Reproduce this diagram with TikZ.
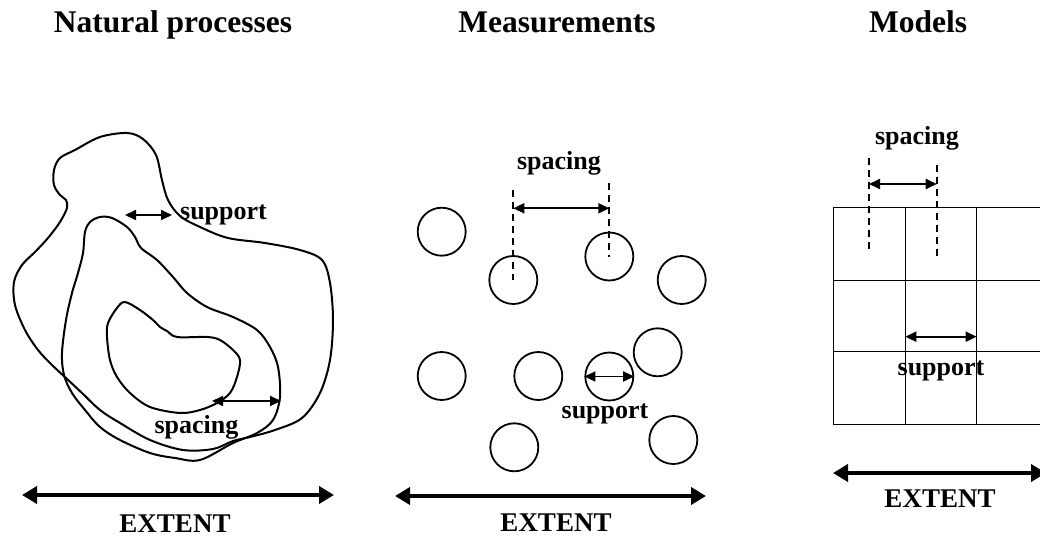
\documentclass[tikz,border=0pt]{standalone}
\usepackage{fontspec}
\setmainfont{Liberation Serif}
\usetikzlibrary{arrows.meta}
\tikzset{
  title/.style={anchor=base,font=\fontsize{31.5}{34}\selectfont\bfseries,inner sep=0pt},
  lbl/.style={anchor=base,font=\fontsize{26}{28}\selectfont\bfseries,inner sep=0pt},
  ext/.style={anchor=base,font=\fontsize{27}{29}\selectfont\bfseries,inner sep=0pt},
  blob/.style={line width=2pt,line join=round},
  spot/.style={draw,circle,line width=1.8pt,minimum size=48pt,inner sep=0pt},
  small arrow/.style={line width=1.8pt,{Triangle[length=11pt,width=10pt]}-{Triangle[length=11pt,width=10pt]}},
  big arrow/.style={line width=4pt,{Triangle[length=15pt,width=17pt]}-{Triangle[length=15pt,width=17pt]}},
  guide/.style={line width=1.8pt,dash pattern=on 7pt off 5pt},
  gridline/.style={line width=1.5pt}
}
\begin{document}
\begin{tikzpicture}[x=1pt,y=-1pt]
\useasboundingbox[fill=white] (0,0) rectangle (1040,537);

% titles
\node[title] (t1) at (173,33) {Natural processes};
\node[title] (t2) at (557,33) {Measurements};
\node[title] (t3) at (918,33) {Models};

% ---------- Panel 1: natural processes ----------
\draw[blob] plot[smooth cycle,tension=0.55] coordinates {
 (127,133) (143,139) (156,155) (162,180) (168,200) (180,216) (200,227) (228,238)
 (265,243) (300,250) (322,260) (330,283) (333,320) (330,360) (320,393) (302,418)
 (275,430) (250,437) (233,441) (213,449) (183,450) (150,440) (120,423) (100,410)
 (82,393) (66,378) (52,365) (38,350) (25,330) (15,305) (14,282) (22,265) (35,252)
 (48,238) (60,222) (67,208) (66,200) (60,195) (54,185) (54,170) (60,158) (75,150) (100,137)};
\draw[blob] plot[smooth cycle,tension=0.55] coordinates {
 (100,217) (112,218) (127,227) (135,237) (141,248) (157,260) (173,277) (187,293)
 (207,307) (233,317) (257,330) (270,347) (278,367) (280,397) (273,420) (257,433)
 (233,443) (200,460) (175,458) (150,453) (120,440) (100,427) (85,410) (72,393)
 (64,375) (62,353) (66,320) (72,293) (78,273) (83,253) (85,232) (90,222)};
\draw[blob] plot[smooth cycle,tension=0.55] coordinates {
 (125,302) (117,308) (108,323) (107,337) (110,360) (117,377) (130,393) (150,407)
 (180,413) (200,410) (217,403) (230,393) (237,377) (240,360) (233,350) (220,340)
 (207,337) (177,337) (167,331) (160,327) (153,320) (140,310)};

\coordinate (s1a) at (125,215);
\coordinate (s1b) at (172,215);
\draw[small arrow] (s1a) -- (s1b);
\node[lbl] (sup1) at (223.5,220) {support};

\coordinate (p1a) at (212,401);
\coordinate (p1b) at (281,401);
\draw[small arrow] (p1a) -- (p1b);
\node[lbl] (spc1) at (196.5,433) {spacing};

\coordinate (e1a) at (22,495);
\coordinate (e1b) at (334,495);
\draw[big arrow] (e1a) -- (e1b);
\node[ext] (ext1) at (175,532) {EXTENT};

% ---------- Panel 2: measurements ----------
\node[spot] (c1)  at (441.7,231.7) {};
\node[spot] (c2)  at (513.3,280) {};
\node[spot] (c3)  at (609.3,256.5) {};
\node[spot] (c4)  at (681.7,280) {};
\node[spot] (c5)  at (441.7,376) {};
\node[spot] (c6)  at (538.3,376) {};
\node[spot] (c7)  at (609.3,376.5) {};
\node[spot] (c8)  at (657.7,352.3) {};
\node[spot] (c9)  at (514.3,447.3) {};
\node[spot] (c10) at (673.3,440) {};

\coordinate (g2a) at (513.3,190);
\coordinate (g2b) at (609.3,183);
\coordinate (g2at) at (513.3,208.3);
\coordinate (g2bt) at (609.3,208.3);
\draw[guide] (g2a) -- (c2.center);
\draw[guide] (g2b) -- (c3.center);
\draw[small arrow] (g2at) -- (g2bt);
\node[lbl] (spc2) at (559,170) {spacing};

\draw[small arrow] (c7.west) -- (c7.east);
\node[lbl] (sup2) at (605,418) {support};

\coordinate (e2a) at (395,496);
\coordinate (e2b) at (706,496);
\draw[big arrow] (e2a) -- (e2b);
\node[ext] (ext2) at (556,531) {EXTENT};

% ---------- Panel 3: models ----------
\draw[gridline] (833.3,207.3) -- (1048,207.3);
\draw[gridline] (833.3,280.7) -- (1048,280.7);
\draw[gridline] (833.3,351.7) -- (1048,351.7);
\draw[gridline] (833.3,424.3) -- (1048,424.3);
\draw[gridline] (833.3,207.3) -- (833.3,424.3);
\draw[gridline] (905.3,207.3) -- (905.3,424.3);
\draw[gridline] (976.7,207.3) -- (976.7,424.3);

\coordinate (g3a) at (869,158);
\coordinate (g3ae) at (869,250);
\coordinate (g3b) at (936.7,165);
\coordinate (g3be) at (936.7,257);
\draw[guide] (g3a) -- (g3ae);
\draw[guide] (g3b) -- (g3be);
\coordinate (g3at) at (869,184);
\coordinate (g3bt) at (936.7,184);
\draw[small arrow] (g3at) -- (g3bt);
\node[lbl] (spc3) at (917,145) {spacing};

\coordinate (s3a) at (905.3,336.7);
\coordinate (s3b) at (976.7,336.7);
\draw[small arrow] (s3a) -- (s3b);
\node[lbl] (sup3) at (941,375) {support};

\coordinate (e3a) at (833,473);
\coordinate (e3b) at (1046,473);
\draw[big arrow] (e3a) -- (e3b);
\node[ext] (ext3) at (940,507) {EXTENT};
\end{tikzpicture}
\end{document}
